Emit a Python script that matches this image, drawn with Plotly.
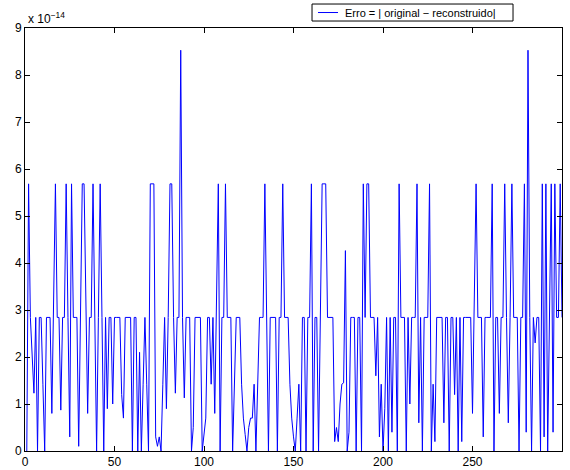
import plotly.graph_objects as go

# Absolute reconstruction error per sample, in units of 1e-14
erro_e14 = [
    0, 5.684, 2.842, 2.0, 1.23, 2.842, 0, 2.842, 2.842, 1.421,
    0, 2.842, 2.842, 2.842, 0.8, 2.842, 5.684, 2.842, 2.842, 0.87,
    2.842, 2.842, 5.684, 2.842, 0.3, 5.684, 2.842, 2.842, 2.842, 0.1,
    2.842, 5.684, 5.684, 2.842, 0.8, 2.842, 2.842, 5.684, 2.842, 0,
    2.842, 5.684, 2.842, 0, 2.842, 0.9, 2.842, 2.842, 1.0, 2.842,
    2.842, 2.842, 2.842, 1.2, 0.7, 2.842, 2.842, 2.842, 2.842, 0,
    2.842, 2.842, 0, 2.1, 0, 1.421, 2.842, 1.421, 0, 5.684,
    5.684, 5.684, 0.3, 0.1, 0.3, 0, 1.421, 2.842, 0.9, 2.842,
    5.684, 5.684, 2.842, 1.23, 2.842, 2.842, 8.527, 2.842, 1.13, 2.842,
    2.842, 2.842, 0, 0.5, 2.842, 2.842, 2.842, 2.842, 0, 0.3,
    0.7, 2.842, 2.842, 1.421, 2.842, 0.8, 2.842, 5.684, 0, 2.842,
    2.842, 5.684, 2.842, 2.842, 2.842, 0, 1.421, 2.842, 2.842, 2.842,
    1.421, 0.7, 0.35, 0, 0.5, 0.7, 0.7, 1.421, 0, 1.421,
    2.842, 2.842, 2.842, 5.684, 2.842, 0, 2.842, 2.842, 2.842, 2.842,
    0, 2.842, 2.842, 5.684, 2.842, 2.842, 2.842, 1.421, 0.7, 0.3,
    0, 0.7, 1.421, 0, 2.842, 2.842, 0, 2.842, 2.842, 5.684,
    0, 2.842, 2.842, 0, 2.842, 5.684, 5.684, 5.684, 2.842, 2.842,
    2.842, 2.842, 0.2, 0.5, 0.2, 1.0, 1.421, 1.45, 4.263, 0,
    0.4, 2.842, 2.842, 2.842, 0, 2.842, 2.842, 0, 5.684, 2.842,
    5.684, 5.684, 2.842, 2.842, 2.842, 1.6, 2.842, 0.3, 1.421, 0,
    0.9, 2.842, 0, 2.842, 0.4, 2.842, 2.842, 0, 5.684, 2.842,
    2.842, 2.842, 0, 2.842, 1.0, 2.842, 2.842, 2.842, 5.684, 0.6,
    2.842, 0, 2.842, 2.842, 2.842, 5.684, 0, 1.421, 0.2, 2.842,
    2.842, 2.842, 2.842, 0.6, 2.842, 2.842, 0, 2.842, 2.842, 1.2,
    2.842, 0, 2.842, 0.2, 2.842, 2.842, 2.842, 2.842, 2.842, 0.8,
    2.842, 5.684, 2.842, 2.842, 2.842, 0.3, 2.842, 2.842, 2.842, 2.842,
    5.684, 0, 2.842, 2.842, 0.8, 2.842, 2.842, 5.684, 2.842, 0.6,
    2.842, 5.684, 2.842, 2.842, 2.842, 0, 2.842, 2.842, 5.684, 0.4,
    8.527, 2.842, 0, 2.842, 2.3, 2.842, 2.842, 0, 5.684, 0.3,
    5.684, 0, 2.842, 5.684, 0.4, 5.684, 2.842, 2.842, 5.684, 2.842,
]
amostras = list(range(1, len(erro_e14) + 1))

x_ticks = [0, 50, 100, 150, 200, 250, 300]
y_ticks = [0, 1, 2, 3, 4, 5, 6, 7, 8, 9]

legenda = "Erro = | original \u2212 reconstruido|"
cor = "#0000ff"
font = "Liberation Sans, Arial, Helvetica, sans-serif"

fig = go.Figure()
fig.add_trace(go.Scatter(
    x=amostras, y=erro_e14, mode="lines",
    line=dict(color=cor, width=1),
    name=legenda, showlegend=False,
))

axis_common = dict(
    showline=True, linecolor="black", linewidth=1, mirror="ticks",
    ticks="inside", ticklen=5, tickcolor="black", tickwidth=1,
    showgrid=False, zeroline=False, automargin=False,
    tickfont=dict(family=font, size=12, color="black"),
)

fig.update_xaxes(range=[0, 300], tickvals=x_ticks, **axis_common)
fig.update_yaxes(range=[0, 9], tickvals=y_ticks, **axis_common)

# exponent label above the y axis
fig.add_annotation(
    xref="paper", yref="paper", x=0, y=1, xanchor="left", yanchor="bottom",
    text="x 10<sup>\u221214</sup>", showarrow=False,
    font=dict(family=font, size=12, color="black"), xshift=1,
)

# legend box drawn in paper coordinates, straddling the top axis
box_x0, box_x1 = 0.5345, 0.9088
box_y0, box_y1 = 1.0165, 1.0567
ymid = (box_y0 + box_y1) / 2
fig.add_shape(type="rect", xref="paper", yref="paper",
              x0=box_x0, x1=box_x1, y0=box_y0, y1=box_y1,
              line=dict(color="black", width=1), fillcolor="white", layer="above")
fig.add_shape(type="line", xref="paper", yref="paper",
              x0=0.5456, x1=0.5829, y0=ymid, y1=ymid,
              line=dict(color=cor, width=1), layer="above")
fig.add_annotation(
    xref="paper", yref="paper", x=0.5922, y=ymid, xanchor="left", yanchor="middle",
    text=legenda, showarrow=False,
    font=dict(family=font, size=11, color="black"),
)

fig.update_layout(
    width=570, height=470,
    margin=dict(l=25, r=8, t=28, b=19),
    paper_bgcolor="white", plot_bgcolor="white",
)

fig.write_html("out.html")
